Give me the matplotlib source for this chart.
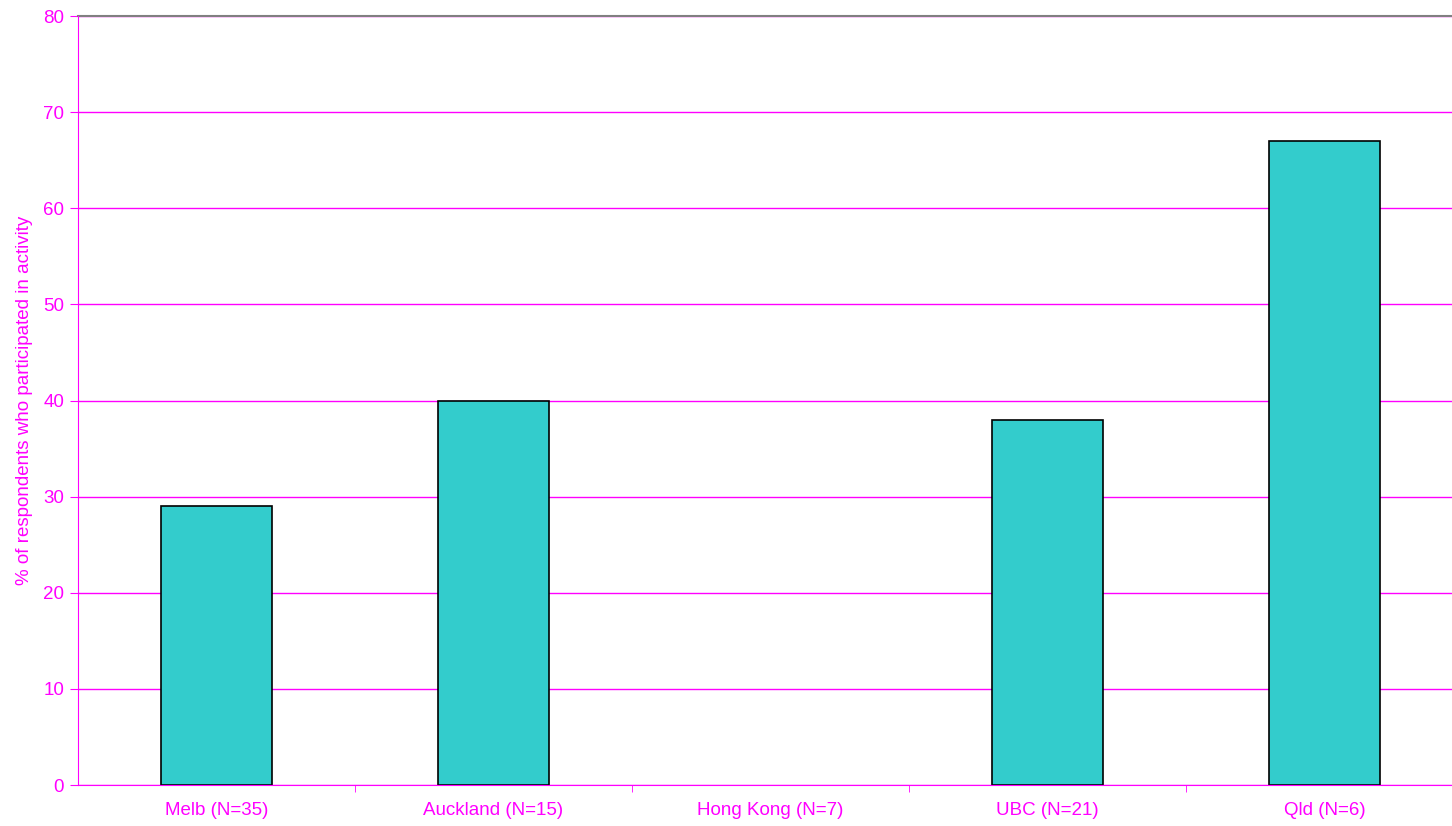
import matplotlib.pyplot as plt
import numpy as np

categories = ["Melb (N=35)", "Auckland (N=15)", "Hong Kong (N=7)", "UBC (N=21)", "Qld (N=6)"]
values = [29, 40, 0, 38, 67]
yticks = [0, 10, 20, 30, 40, 50, 60, 70, 80]

MAGENTA = "#FF00FF"
TEAL = "#33CCCC"

plt.rcParams['font.family'] = ['Liberation Sans', 'DejaVu Sans']

W, H = 1452, 826
fig = plt.figure(figsize=(W / 100, H / 100), dpi=100)
# plot area: left 78px, top 16px, bottom 785px, category width 277px (extends past the right edge)
left, right, top, bottom = 78, 78 + 277 * 5, 16, 785
ax = fig.add_axes([left / W, 1 - bottom / H, (right - left) / W, (bottom - top) / H])

x = np.arange(len(categories))
edges = ["black" if v > 0 else "none" for v in values]
ax.bar(x, values, width=0.4, color=TEAL, edgecolor=edges, linewidth=1.2, zorder=3)

ax.set_xlim(-0.5, len(categories) - 0.5)
ax.set_ylim(0, 80)
ax.set_yticks(yticks)
ax.grid(axis='y', color=MAGENTA, linewidth=1, zorder=0)
ax.set_axisbelow(True)

ax.set_xticks(x)
ax.set_xticklabels(categories, fontsize=13.5, color=MAGENTA)
ax.tick_params(axis='x', length=0, pad=12)
ax.set_xticks(np.arange(len(categories)) + 0.5, minor=True)
ax.tick_params(axis='x', which='minor', length=5, color=MAGENTA, direction='out')
ax.tick_params(axis='y', length=6, color=MAGENTA, labelcolor=MAGENTA, labelsize=13.5, pad=4)

ax.set_ylabel("% of respondents who participated in activity", color=MAGENTA, fontsize=13.5)
ax.yaxis.set_label_coords(-45 / (right - left), 0.5)

for side in ['left', 'bottom']:
    ax.spines[side].set_color(MAGENTA)
    ax.spines[side].set_zorder(5)
ax.spines['top'].set_color("#808080")
ax.spines['top'].set_linewidth(1.5)
ax.spines['right'].set_visible(False)

fig.savefig("out.png", dpi=100)
